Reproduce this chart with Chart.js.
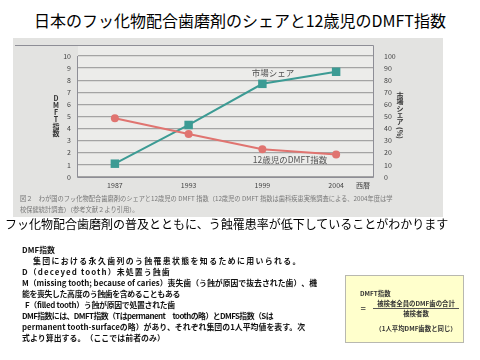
<!DOCTYPE html>
<html>
<head>
<meta charset="utf-8">
<script src="https://cdn.jsdelivr.net/npm/chart.js@4"></script>
<style>
  body { margin: 0; width: 480px; height: 360px; background: #fff; position: relative; overflow: hidden;
         font-family: "Noto Sans CJK JP", "Noto Sans", sans-serif; }
  .abs { position: absolute; white-space: nowrap; }
  #title { left: 0; width: 480px; top: 9px; text-align: center; font-size: 16px; line-height: 22px; color: #000; }
  #fig { left: 13px; top: 38px; width: 430px; height: 179px; background: #e3e3e1; }
  #wrap { left: 0; top: 38px; width: 480px; height: 180px; }
  .cap { left: 20px; font-size: 6.25px; line-height: 8px; color: #777; }
  #sub { left: 5px; top: 216px; font-size: 12px; line-height: 16px; color: #000; }
  .txt { font-size: 7.9px; line-height: 11px; font-weight: 700; color: #111; }
  #box { left: 345px; top: 275px; width: 117px; height: 66px; background: #ffffcc; border: 1px solid #b8b8b0; }
  .bx { font-size: 6.4px; line-height: 8px; font-weight: 700; color: #333; }
</style>
</head>
<body>
<div id="title" class="abs">日本のフッ化物配合歯磨剤のシェアと12歳児のDMFT指数</div>
<div id="fig" class="abs"></div>
<div id="wrap" class="abs"><canvas id="chart" width="480" height="180" style="display:block"></canvas></div>
<div class="abs cap" style="top:195px">図２　わが国のフッ化物配合歯磨剤のシェアと12歳児の DMFT 指数（12歳児の DMFT 指数は歯科疾患実態調査による、2004年度は学</div>
<div class="abs cap" style="top:206px">校保健統計調査）（参考文献２より引用）。</div>
<div id="sub" class="abs">フッ化物配合歯磨剤の普及とともに、う蝕罹患率が低下していることがわかります</div>

<div class="abs txt" data-w="33" style="left:22px;top:244px">DMF指数</div>
<div class="abs txt" data-w="269" style="left:33px;top:255px">集団における永久歯列のう蝕罹患状態を知るために用いられる。</div>
<div class="abs txt" data-w="149" style="left:22px;top:266px">D（deceyed tooth）未処置う蝕歯</div>
<div class="abs txt" data-w="295" style="left:22px;top:277px">M（missing tooth; because of caries）喪失歯（う蝕が原因で抜去された歯）、機</div>
<div class="abs txt" data-w="158" style="left:22px;top:288px">能を喪失した高度のう蝕歯を含めることもある</div>
<div class="abs txt" data-w="150" style="left:25px;top:299px">F（filled tooth）う蝕が原因で処置された歯</div>
<div class="abs txt" data-w="251" style="left:22px;top:310px">DMF指数には、DMFT指数（Tはpermanent　toothの略）とDMFS指数（Sは</div>
<div class="abs txt" data-w="283" style="left:22px;top:321px">permanent tooth-surfaceの略）があり、それぞれ集団の1人平均値を表す。次</div>
<div class="abs txt" data-w="143" style="left:22px;top:332px">式より算出する。（ここでは前者のみ）</div>

<div id="box" class="abs">
  <div class="abs bx" style="left:14px;top:14px">DMFT指数</div>
  <div class="abs bx" style="left:14px;top:29px">＝</div>
  <div class="abs bx" style="left:27px;top:24px;width:86px;text-align:center">被検者全員のDMF歯の合計</div>
  <div class="abs" style="left:27px;top:32px;width:86px;height:0;border-top:1px solid #555"></div>
  <div class="abs bx" style="left:27px;top:34px;width:86px;text-align:center">被検者数</div>
  <div class="abs bx" style="left:20px;top:49px;width:100px;text-align:center">（1人平均DMF歯数と同じ）</div>
</div>

<script>
const years = ['1987', '1993', '1999', '2004'];
const dmftIndex = [4.85, 3.55, 2.3, 1.85];
const marketShare = [11, 43, 77, 87];
const leftTicks = [0, 1, 2, 3, 4, 5, 6, 7, 8, 9, 10];
const rightTicks = [0, 10, 20, 30, 40, 50, 60, 70, 80, 90, 100];

const tickFont = { family: 'Noto Sans CJK JP', size: 7 };

// stretch each note line to the width it has on the slide
document.querySelectorAll('.txt').forEach(el => {
    const target = +el.dataset.w;
    const n = el.textContent.length;
    const extra = (target - el.getBoundingClientRect().width) / n;
    el.style.letterSpacing = extra.toFixed(2) + 'px';
});

// frame, background and the labels printed inside the figure
const figurePlugin = {
    id: 'figure',
    beforeDraw(chart) {
        const { ctx, chartArea: a } = chart;
        ctx.save();
        ctx.fillStyle = '#ececea';
        ctx.fillRect(a.left, a.top - 11, a.right - a.left, a.bottom - a.top + 11);
        ctx.restore();
    },
    beforeDatasetsDraw(chart) {
        const { ctx, chartArea: a } = chart;
        ctx.save();
        ctx.strokeStyle = '#8e8e96';
        ctx.lineWidth = 1;
        ctx.beginPath();
        ctx.moveTo(15, a.top - 10.5);
        ctx.lineTo(a.right + 0.5, a.top - 10.5);
        ctx.lineTo(a.right + 0.5, a.bottom + 0.5);
        ctx.lineTo(a.left - 0.5, a.bottom + 0.5);
        ctx.lineTo(a.left - 0.5, a.top);
        ctx.stroke();

        ctx.fillStyle = '#555';
        ctx.font = '8.5px "Noto Sans CJK JP"';
        ctx.textAlign = 'center';
        ctx.textBaseline = 'middle';
        ctx.fillText('市場シェア', 273, 35);
        ctx.fillText('12歳児のDMFT指数', 290, 122);

        ctx.fillStyle = '#333';
        ctx.font = 'bold 7px "Noto Sans CJK JP"';
        'DMFT指数'.split('').forEach((c, i) => ctx.fillText(c, 56, 60 + i * 7));
        '市場シェア'.split('').forEach((c, i) => ctx.fillText(c, 400, 57 + i * 6.6));
        ctx.translate(400, 95);
        ctx.rotate(Math.PI / 2);
        ctx.fillText('(%)', 0, 0);
        ctx.restore();

        ctx.save();
        ctx.fillStyle = '#444';
        ctx.font = '7px "Noto Sans CJK JP"';
        ctx.textAlign = 'center';
        ctx.textBaseline = 'middle';
        ctx.fillText('西暦', 363, 147);
        ctx.restore();
    }
};

const ctx = document.getElementById('chart').getContext('2d');
const chart = new Chart(ctx, {
    type: 'line',
    data: {
        labels: years,
        datasets: [{
            label: '12歳児のDMFT指数',
            data: dmftIndex,
            yAxisID: 'y',
            borderColor: '#e07470',
            backgroundColor: '#e07470',
            borderWidth: 2,
            pointStyle: 'circle',
            pointRadius: 4,
            pointBorderWidth: 0
        }, {
            label: '市場シェア',
            data: marketShare,
            yAxisID: 'y1',
            borderColor: '#3c9b94',
            backgroundColor: '#3c9b94',
            borderWidth: 2,
            pointStyle: 'rect',
            pointRadius: 6,
            pointBorderWidth: 0
        }]
    },
    options: {
        responsive: false,
        animation: false,
        layout: { padding: { top: 18 } },
        plugins: { legend: { display: false }, tooltip: { enabled: false } },
        scales: {
            x: {
                offset: true,
                grid: { display: false, drawTicks: false },
                border: { display: false },
                ticks: { font: tickFont, color: '#444', padding: 4 },
                afterFit: s => { s.height = 41; }
            },
            y: {
                position: 'left',
                min: 0, max: 10,
                afterBuildTicks: s => { s.ticks = leftTicks.map(v => ({ value: v })); },
                grid: { color: '#a4a4a4', lineWidth: 1.3, drawTicks: false },
                border: { display: false },
                ticks: { font: tickFont, color: '#444', padding: 7 },
                afterFit: s => { s.width = 78; }
            },
            y1: {
                position: 'right',
                min: 0, max: 100,
                afterBuildTicks: s => { s.ticks = rightTicks.map(v => ({ value: v })); },
                grid: { display: false, drawTicks: false },
                border: { display: false },
                ticks: { font: tickFont, color: '#444', padding: 11 },
                afterFit: s => { s.width = 107; }
            }
        }
    },
    plugins: [figurePlugin]
});
</script>
</body>
</html>
